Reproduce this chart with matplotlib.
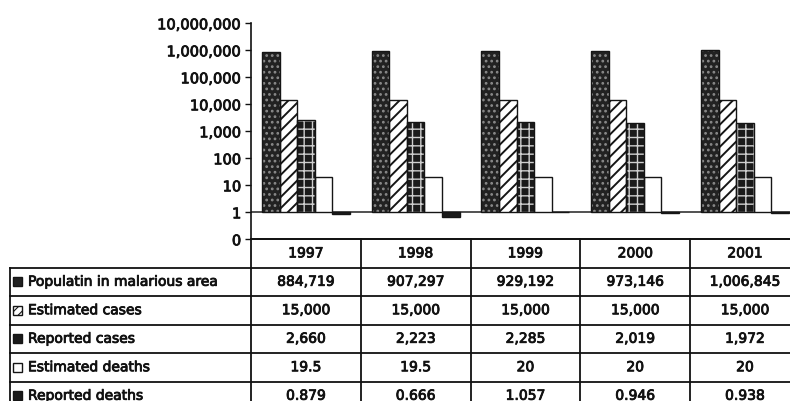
import numpy as np
import matplotlib
matplotlib.use("Agg")
import matplotlib.pyplot as plt
import matplotlib.patheffects as pe
from matplotlib.patches import Rectangle
from matplotlib.ticker import FixedLocator, FixedFormatter, NullLocator

# Malaria figures by year
years = ["1997", "1998", "1999", "2000", "2001"]
series_names = ["Populatin in malarious area", "Estimated cases", "Reported cases",
                "Estimated deaths", "Reported deaths"]
population = [884719, 907297, 929192, 973146, 1006845]
est_cases = [15000, 15000, 15000, 15000, 15000]
rep_cases = [2660, 2223, 2285, 2019, 1972]
est_deaths = [19.5, 19.5, 20, 20, 20]
rep_deaths = [0.879, 0.666, 1.057, 0.946, 0.938]

ytick_values = [0.1, 1, 10, 100, 1e3, 1e4, 1e5, 1e6, 1e7]
ytick_labels = ["0", "1", "10", "100", "1,000", "10,000", "100,000",
                "1,000,000", "10,000,000"]

series = [population, est_cases, rep_cases, est_deaths, rep_deaths]
cell_text = [
    [f"{v:,}" for v in population],
    [f"{v:,}" for v in est_cases],
    [f"{v:,}" for v in rep_cases],
    [f"{v:g}" for v in est_deaths],
    [f"{v:.3f}" for v in rep_deaths],
]

# fill / hatch styles, one per series (key = small square in the table)
styles = [
    dict(face="#222222", hatch="...", hc="#8a8a8a", hlw=1.2, key_hatch=None),
    dict(face="white", hatch="///", hc="#151515", hlw=1.4, key_hatch="////"),
    dict(face="#1a1a1a", hatch="++", hc="#cfcfcf", hlw=1.0, key_hatch=None),
    dict(face="white", hatch=None, hc="#151515", hlw=1.0, key_hatch=None),
    dict(face="#1a1a1a", hatch=None, hc="#1a1a1a", hlw=1.0, key_hatch=None),
]

INK = "#111111"
heavy = [pe.withStroke(linewidth=0.6, foreground=INK)]

W, H = 790, 401
plt.rcParams["font.family"] = "DejaVu Sans"
fig = plt.figure(figsize=(W / 100, H / 100), dpi=100)

ax_left, ax_right = 251, 799.75
ax_top, ax_bot = 23.3, 239.3
ax = fig.add_axes([ax_left / W, 1 - ax_bot / H,
                   (ax_right - ax_left) / W, (ax_bot - ax_top) / H])

x = np.arange(len(years))
w = 0.16
for i, (vals, st) in enumerate(zip(series, styles)):
    xs = x + (i - 2) * w
    h = np.array(vals, dtype=float) - 1
    with plt.rc_context({"hatch.linewidth": st["hlw"]}):
        ax.bar(xs, h, w, bottom=1, color=st["face"], edgecolor=st["hc"],
               hatch=st["hatch"], linewidth=0, zorder=2)
    ax.bar(xs, h, w, bottom=1, fill=False, edgecolor="#151515",
           linewidth=1.0, zorder=3)

ax.axhline(1, color="#222222", lw=1.1, zorder=1)
ax.set_yscale("log")
ax.set_ylim(0.1, 1e7)
ax.set_xlim(-0.5, len(years) - 0.5)
ax.yaxis.set_major_locator(FixedLocator(ytick_values))
ax.yaxis.set_major_formatter(FixedFormatter(ytick_labels))
ax.yaxis.set_minor_locator(NullLocator())
ax.set_xticks([])
ax.tick_params(axis="y", direction="out", length=4, width=1.0,
               labelsize=10.5, pad=3, colors=INK)
for side in ["top", "right"]:
    ax.spines[side].set_visible(False)
for side in ["left", "bottom"]:
    ax.spines[side].set_linewidth(1.2)
    ax.spines[side].set_color(INK)

# data table under the chart, drawn in pixel units
tb = fig.add_axes([0, 0, 1, 1])
tb.set_xlim(0, W)
tb.set_ylim(H, 0)
tb.axis("off")

col_w = (ax_right - ax_left) / len(years)
head_bot = 267.5
row_h = 28.5
label_left = 10
lw = 1.3

tb.plot([ax_left, W + 20], [ax_bot, ax_bot], color=INK, lw=lw)
for k in range(len(series_names) + 1):
    yk = head_bot + k * row_h
    tb.plot([label_left, W + 20], [yk, yk], color=INK, lw=lw)
for j in range(len(years) + 1):
    xj = ax_left + j * col_w
    tb.plot([xj, xj], [ax_bot, H + 20], color=INK, lw=lw)
tb.plot([label_left, label_left], [head_bot, H + 20], color=INK, lw=lw)

for j, yr in enumerate(years):
    tb.text(ax_left + (j + 0.5) * col_w, (ax_bot + head_bot) / 2, yr,
            ha="center", va="center", fontsize=10, color=INK,
            path_effects=heavy)

for i, name in enumerate(series_names):
    yc = head_bot + (i + 0.5) * row_h
    st = styles[i]
    with plt.rc_context({"hatch.linewidth": 0.8}):
        tb.add_patch(Rectangle((13, yc - 4.5), 9, 9, facecolor=st["face"],
                               edgecolor="#151515", hatch=st["key_hatch"], lw=0))
    tb.add_patch(Rectangle((13, yc - 4.5), 9, 9, fill=False,
                           edgecolor="#151515", lw=1.0))
    tb.text(28, yc, name, ha="left", va="center", fontsize=10, color=INK,
            path_effects=heavy)
    for j, txt in enumerate(cell_text[i]):
        tb.text(ax_left + (j + 0.5) * col_w, yc, txt, ha="center",
                va="center", fontsize=10, color=INK, path_effects=heavy)

fig.canvas.draw()
for lab in ax.get_yticklabels():
    lab.set_path_effects(heavy)

fig.savefig("out.png", dpi=100)
